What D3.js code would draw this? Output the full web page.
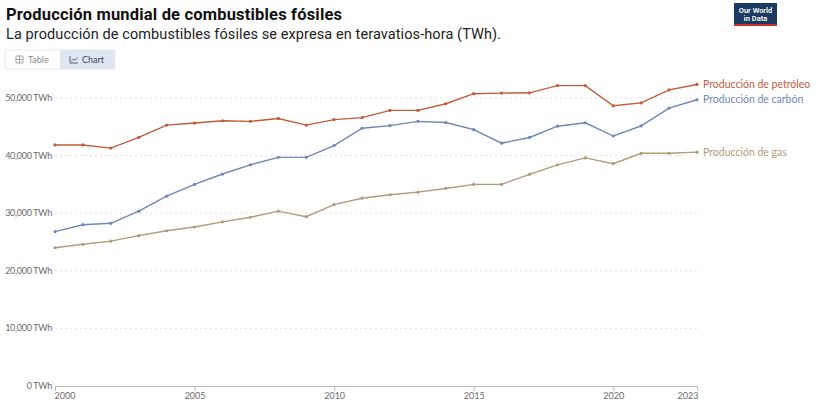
<!DOCTYPE html>
<html>
<head>
<meta charset="utf-8">
<script src="https://cdn.jsdelivr.net/npm/d3@7"></script>
<style>
  body { margin: 0; background: #fff; }
  svg { display: block; }
</style>
</head>
<body>
<svg id="chart" width="816" height="403"></svg>
<script>
'use strict';

// years 2000 - 2023
var years = d3.range(2000, 2024);

// TWh
var oil = [41850, 41850, 41300, 43150, 45300, 45650, 46050, 45950, 46450, 45300,
	46250, 46600, 47850, 47850, 49000, 50750, 50850, 50900, 52150, 52150,
	48650, 49150, 51400, 52350];
var coal = [26800, 28000, 28250, 30350, 32950, 35000, 36800, 38400, 39700, 39700,
	41750, 44750, 45200, 45950, 45750, 44500, 42150, 43150, 45100, 45700,
	43400, 45150, 48250, 49700];
var gas = [24000, 24600, 25150, 26100, 26950, 27600, 28500, 29300, 30350, 29400,
	31500, 32600, 33200, 33650, 34300, 35000, 35000, 36750, 38400, 39600,
	38600, 40400, 40400, 40600];

var yTicks = [0, 10000, 20000, 30000, 40000, 50000];
var xTicks = [2000, 2005, 2010, 2015, 2020, 2023];

var series = [
	{ name: 'Producción de petróleo', values: oil, color: '#c05b3c' },
	{ name: 'Producción de carbón', values: coal, color: '#6c88b6' },
	{ name: 'Producción de gas', values: gas, color: '#b39a77' }
];

var svg = d3.select('#chart');
var font = 'Lato, "Open Sans", sans-serif';

// header
svg.append('text')
	.attr('x', 6).attr('y', 20)
	.attr('font-family', 'Roboto, sans-serif')
	.attr('font-weight', 700)
	.attr('font-size', 16.5)
	.attr('fill', '#111')
	.attr('textLength', 336)
	.text('Producción mundial de combustibles fósiles');

svg.append('text')
	.attr('x', 6).attr('y', 39)
	.attr('font-family', 'Roboto, sans-serif')
	.attr('font-size', 14.5)
	.attr('fill', '#222')
	.attr('textLength', 495)
	.text('La producción de combustibles fósiles se expresa en teravatios-hora (TWh).');

// logo
var logo = svg.append('g').attr('transform', 'translate(734,3)');
logo.append('rect').attr('width', 43).attr('height', 23).attr('fill', '#1c3a62');
logo.append('rect').attr('y', 21).attr('width', 43).attr('height', 2).attr('fill', '#c9302c');
logo.append('text').attr('x', 21.5).attr('y', 10)
	.attr('text-anchor', 'middle').attr('font-family', 'Roboto, sans-serif')
	.attr('font-size', 7.5).attr('font-weight', 600).attr('fill', '#fff')
	.text('Our World');
logo.append('text').attr('x', 21.5).attr('y', 18)
	.attr('text-anchor', 'middle').attr('font-family', 'Roboto, sans-serif')
	.attr('font-size', 7.5).attr('font-weight', 600).attr('fill', '#fff')
	.text('in Data');

// Table / Chart tabs
var tabs = svg.append('g').attr('transform', 'translate(5,50)');
tabs.append('rect').attr('width', 110).attr('height', 19).attr('rx', 2)
	.attr('fill', '#fff').attr('stroke', '#e6e9ee');
tabs.append('rect').attr('x', 55).attr('width', 55).attr('height', 19)
	.attr('fill', '#dde6f1');
// table icon
var ti = tabs.append('g').attr('transform', 'translate(11,6)')
	.attr('fill', 'none').attr('stroke', '#999').attr('stroke-width', 0.9);
ti.append('rect').attr('width', 7).attr('height', 7).attr('rx', 0.8);
ti.append('line').attr('x1', 0).attr('x2', 7).attr('y1', 3.5).attr('y2', 3.5);
ti.append('line').attr('x1', 3.5).attr('x2', 3.5).attr('y1', 0).attr('y2', 7);
tabs.append('text').attr('x', 23).attr('y', 13)
	.attr('font-family', font).attr('font-size', 9).attr('fill', '#888')
	.text('Table');
// chart icon
var ci = tabs.append('g').attr('transform', 'translate(65,6)')
	.attr('fill', 'none').attr('stroke', '#556').attr('stroke-width', 0.9);
ci.append('path').attr('d', 'M0,0V7H8');
ci.append('path').attr('d', 'M1.5,5L3.5,3L5,4.2L7.5,1.5');
tabs.append('text').attr('x', 77).attr('y', 13)
	.attr('font-family', font).attr('font-size', 9).attr('fill', '#445')
	.text('Chart');

var x = d3.scaleLinear().domain([2000, 2023]).range([55, 697]);
var y = d3.scaleLinear().domain([0, 50000]).range([386, 98]);

// grid + y labels
svg.append('g')
	.selectAll('line')
	.data(yTicks.filter(function (d) { return d > 0; }))
	.join('line')
	.attr('x1', 55).attr('x2', 697)
	.attr('y1', function (d) { return y(d); })
	.attr('y2', function (d) { return y(d); })
	.attr('stroke', '#e2e2e2')
	.attr('stroke-dasharray', '2,3');

svg.append('g')
	.selectAll('text')
	.data(yTicks)
	.join('text')
	.attr('x', 52)
	.attr('y', function (d) { return y(d) + 3; })
	.attr('text-anchor', 'end')
	.attr('font-family', font)
	.attr('font-size', 9)
	.attr('letter-spacing', -0.3)
	.attr('fill', '#6b6b6b')
	.text(function (d) { return d3.format(',')(d) + ' TWh'; });

// x axis
var xAxis = d3.axisBottom(x)
	.tickValues(xTicks)
	.tickFormat(d3.format('d'))
	.tickSize(5)
	.tickSizeOuter(0);

var gx = svg.append('g')
	.attr('transform', 'translate(0,386)')
	.call(xAxis);
gx.select('.domain').attr('stroke', '#bbb');
gx.selectAll('.tick line').attr('stroke', '#bbb');
gx.selectAll('.tick text')
	.attr('font-family', font)
	.attr('font-size', 9)
	.attr('fill', '#6b6b6b')
	.attr('dy', '0.5em')
	.attr('text-anchor', function (d, i) {
		return i === 0 ? 'start' : (i === xTicks.length - 1 ? 'end' : 'middle');
	})
	.attr('dx', function (d, i) {
		return i === 0 ? -1 : (i === xTicks.length - 1 ? 1 : 0);
	});

// lines
var line = d3.line()
	.x(function (d, i) { return x(years[i]); })
	.y(function (d) { return y(d); });

series.forEach(function (s) {
	var g = svg.append('g');
	g.append('path')
		.datum(s.values)
		.attr('d', line)
		.attr('fill', 'none')
		.attr('stroke', s.color)
		.attr('stroke-width', 1.4);

	g.selectAll('circle')
		.data(s.values)
		.join('circle')
		.attr('cx', function (d, i) { return x(years[i]); })
		.attr('cy', function (d) { return y(d); })
		.attr('r', 1.6)
		.attr('fill', s.color);

	g.append('text')
		.attr('x', 703)
		.attr('y', y(s.values[s.values.length - 1]) + 3.5)
		.attr('font-family', font)
		.attr('font-size', 10.5)
		.attr('fill', s.color)
		.text(s.name);
});
</script>
</body>
</html>
